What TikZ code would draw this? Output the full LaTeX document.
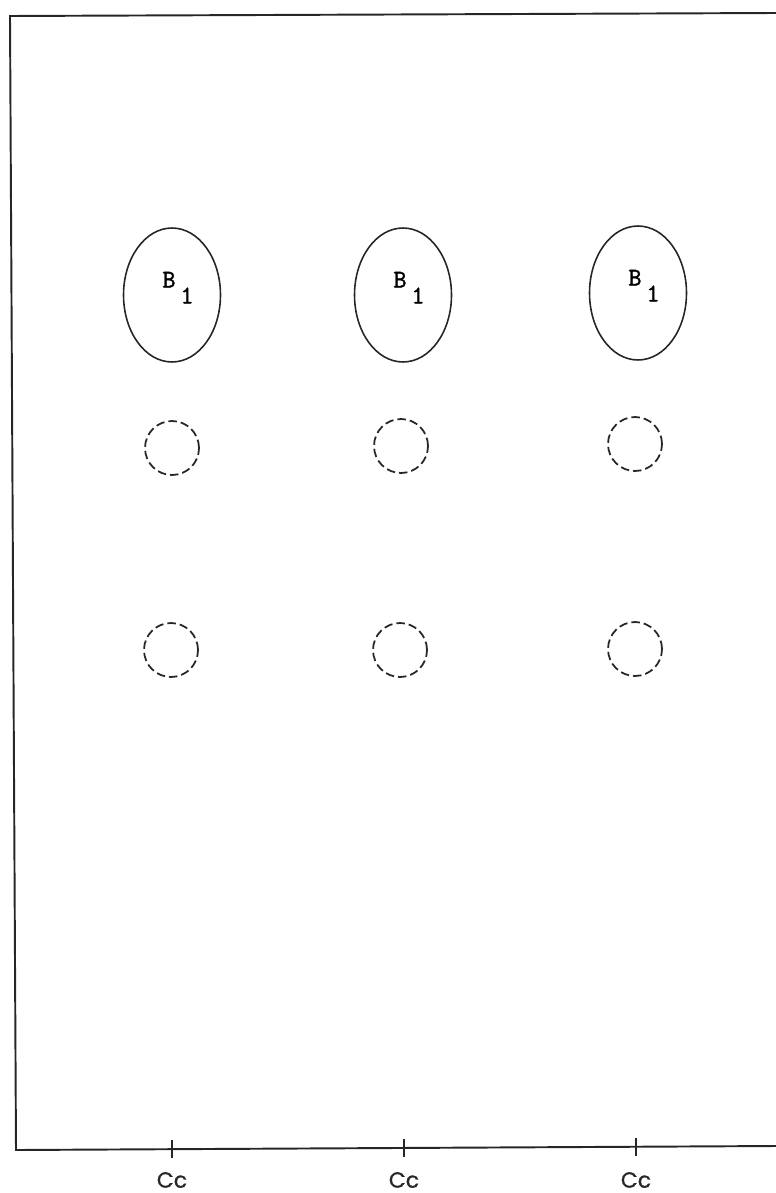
\documentclass[tikz,border=0pt]{standalone}
\usepackage{fontspec}
\usetikzlibrary{positioning,shapes,calc}
\newfontfamily\cclabelfont{Poppins}[FakeBold=1]
\newfontfamily\spotfont{Latin Modern Mono}[FakeBold=1.5]

\begin{document}
\begin{tikzpicture}[
        x=0.02cm, y=-0.02cm,
        frame/.style={line width=1.1pt, black!85},
        spot/.style={ellipse, draw=black!85, line width=0.9pt, minimum width=1.94cm, minimum height=2.68cm, inner sep=0pt,
            text height=0.30cm, text depth=0.60cm, font=\fontsize{14.5}{16}\selectfont\spotfont},
        faint/.style={circle, draw=black!85, line width=1pt, dash pattern=on 0.17cm off 0.08cm, minimum size=1.08cm, inner sep=0pt},
        cclabel/.style={font=\fontsize{12.5}{14}\selectfont\cclabelfont, black!85, inner sep=0pt}
    ]
        \useasboundingbox (0,0) rectangle (776,1193);

        % Frame
        \coordinate (tl) at (10,16);
        \coordinate (tr) at (776,13);
        \coordinate (bl) at (16,1150);
        \coordinate (br) at (776,1146);
        \draw[frame] (tr) -- (tl) -- (bl) -- (br);

        % Spots B1
        \node[spot] (b1) at (172,295) {\kern0.24cm B\kern0.1cm\raisebox{-0.32cm}{1}};
        \node[spot] (b2) at (403,295) {\kern0.24cm B\kern0.1cm\raisebox{-0.32cm}{1}};
        \node[spot] (b3) at (638,293) {\kern0.24cm B\kern0.1cm\raisebox{-0.32cm}{1}};

        % Faint spots
        \node[faint] (f1) at (172,448) {};
        \node[faint] (f2) at (401,446) {};
        \node[faint] (f3) at (635,444) {};
        \node[faint] (g1) at (171,650) {};
        \node[faint] (g2) at (400,650) {};
        \node[faint] (g3) at (635,649) {};

        % Origin marks
        \foreach \i/\x/\y in {1/172/1149, 2/404/1148, 3/636/1147} {
            \coordinate (o\i) at (\x,\y);
            \draw[line width=0.8pt, black!85] (o\i) ++(0,-9) -- ++(0,18);
            \node[cclabel] (c\i) at (\x,1180) {Cc};
        }
    \end{tikzpicture}
\end{document}
